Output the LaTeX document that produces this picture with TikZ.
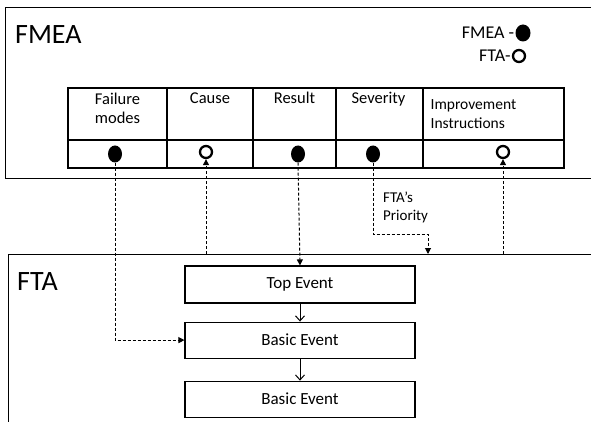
\documentclass[tikz,border=0pt]{standalone}
\usepackage{fontspec}
\setmainfont{Carlito}
\usetikzlibrary{arrows.meta,positioning,calc,shapes.geometric}

\begin{document}
\begin{tikzpicture}[x=1pt,y=-1pt,>=Stealth,font=\fontsize{16.5}{19}\selectfont]
\tikzstyle{frame}=[draw,line width=1.2pt,anchor=north west,inner sep=0pt]
\tikzstyle{cell}=[draw,line width=1.1pt,inner sep=0pt]
\tikzstyle{hd}=[anchor=north,align=center,inner sep=0pt]
\tikzstyle{title}=[anchor=base west,inner sep=0pt,font=\fontsize{28}{30}\selectfont]
\tikzstyle{fmeadot}=[ellipse,fill=black,minimum width=14pt,minimum height=17pt,inner sep=0pt]
\tikzstyle{ftadot}=[circle,draw,line width=2.3pt,minimum size=12pt,inner sep=0pt]
\tikzstyle{ev}=[draw,line width=1.1pt,minimum width=230pt,minimum height=37pt,font=\fontsize{17}{19}\selectfont]
\tikzstyle{link}=[line width=1pt,dash pattern=on 3pt off 2pt,-{Triangle[length=6pt,width=6pt]}]
\clip (0,0) rectangle (591,422);
% two frames
\node[frame,minimum width=600pt,minimum height=171pt] (fmea) at (5,7) {};
\node[frame,minimum width=600pt,minimum height=190pt] (fta) at (8,254) {};
\node[title] (fmeatitle) at (15,44) {FMEA};
\node[title] (ftatitle) at (17,290) {FTA};
% legend
\node[fmeadot,minimum width=15pt] (k1) at (523,33) {};
\node[left=1pt of k1,inner sep=0pt,font=\fontsize{18}{20}\selectfont] (k1txt) {FMEA -};
\node[ftadot] (k2) at (519,56) {};
\node[left=1pt of k2,inner sep=0pt,font=\fontsize{18}{20}\selectfont] (k2txt) {FTA-};
% table
\foreach \i/\x/\w in {1/117.5/99,2/210/86,3/294.5/83,4/379.5/87,5/493.5/141} {
  \node[cell,minimum width=\w pt,minimum height=52pt] (h\i) at (\x,114) {};
  \node[cell,minimum width=\w pt,minimum height=28pt] (v\i) at (\x,154) {};
}
\node[hd] (l1) at ([yshift=-5pt]h1.north) {Failure\\modes};
\node[hd] (l2) at ([yshift=-5pt]h2.north) {Cause};
\node[hd] (l3) at ([yshift=-4pt]h3.north) {Result};
\node[hd] (l4) at ([xshift=-1pt,yshift=-4pt]h4.north) {Severity};
\node[hd,anchor=north west,align=left,font=\fontsize{15.5}{19}\selectfont] (l5) at ([xshift=8pt,yshift=-12pt]h5.north west) {Improvement\\Instructions};
\node[fmeadot] (d1) at (115,154) {};
\node[ftadot] (d2) at (206,152) {};
\node[fmeadot] (d3) at (298,154) {};
\node[fmeadot] (d4) at (373,154) {};
\node[ftadot] (d5) at (503,152) {};
% fault tree
\node[ev] (top) at (300,284.5) {Top Event};
\node[ev,minimum height=36pt,below=18pt of top] (b1) {Basic Event};
\node[ev,minimum height=36pt,below=22pt of b1] (b2) {Basic Event};
\draw[line width=1pt,-{Straight Barb[length=5pt,width=9pt]}] (top) -- (b1);
\draw[line width=1pt,-{Straight Barb[length=5pt,width=9pt]}] (b1) -- (b2);
% links between FMEA and FTA
\coordinate (bend) at (428,234);
\node[anchor=north west,align=left,inner sep=0pt,font=\fontsize{15}{18}\selectfont] (prio) at (383,192) {FTA's\\Priority};
\draw[link] (d1.south) |- (b1.west);
\draw[link] (fta.north -| d2) -- (d2.south);
\draw[link] (d3.south) -- (top.north);
\draw[link] (d4.south) |- (bend) -- (fta.north -| bend);
\draw[link] (fta.north -| d5) -- (d5.south);
\end{tikzpicture}
\end{document}
